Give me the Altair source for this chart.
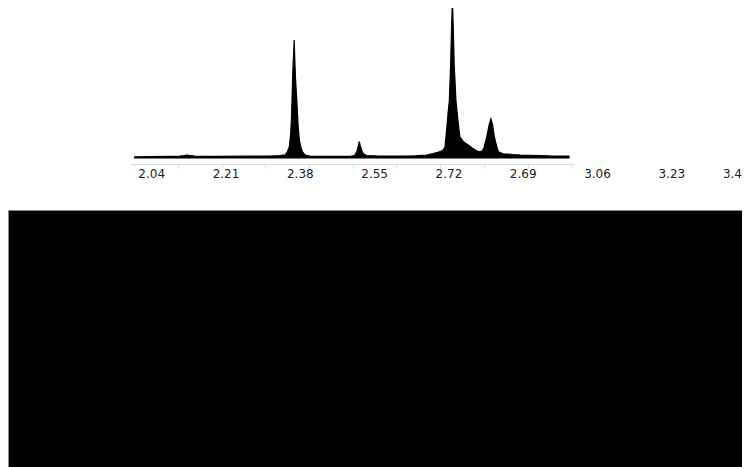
import altair as alt
import pandas as pd

# chromatogram profile (retention value, intensity)
rt = [2.000, 2.036, 2.082, 2.105, 2.114, 2.121, 2.128, 2.139, 2.196, 2.265,
      2.311, 2.334, 2.340, 2.345, 2.350, 2.355, 2.358, 2.360, 2.361, 2.363,
      2.365, 2.366, 2.367, 2.369, 2.372, 2.375, 2.378, 2.381, 2.385, 2.391,
      2.402, 2.448, 2.494, 2.503, 2.505, 2.510, 2.513, 2.515, 2.517, 2.521,
      2.525, 2.532, 2.561, 2.608, 2.642, 2.669, 2.684, 2.700, 2.707, 2.711,
      2.714, 2.718, 2.721, 2.724, 2.726, 2.728, 2.730, 2.732, 2.736, 2.741,
      2.745, 2.753, 2.764, 2.775, 2.787, 2.795, 2.800, 2.806, 2.812, 2.816,
      2.820, 2.824, 2.829, 2.833, 2.844, 2.855, 2.867, 2.883, 2.906, 2.952,
      2.996]
intensity = [1.7, 1.8, 2.2, 2.5, 3.0, 3.5, 3.0, 2.3, 2.2, 2.3,
             2.5, 3.0, 3.3, 3.5, 6.5, 11.8, 25, 42, 58.5, 88,
             108, 118.5, 105, 80, 58.5, 33, 18, 11.8, 6.5, 3.5,
             2.5, 2.2, 2.2, 3.0, 3.5, 7.5, 13, 16.8, 13, 7.5,
             4.5, 3.0, 2.4, 2.5, 2.7, 3.5, 5.0, 6.8, 8.5, 11.8,
             25, 45, 58.5, 95, 130, 158.5, 130, 95, 58.5, 36.5,
             21.8, 16.8, 13.5, 10, 6.8, 7.0, 10.5, 20.5, 33.5, 39.5,
             33.5, 21.5, 12.5, 6.8, 4.7, 4.5, 4.0, 3.5, 3.2, 2.6,
             2.5]

# tick labels as printed (positions and texts); the last one sits flush at the edge
label_pos = [2.04, 2.21, 2.38, 2.55, 2.72, 2.89, 3.06, 3.23]
label_text = ["2.04", "2.21", "2.38", "2.55", "2.72", "2.69", "3.06", "3.23"]
edge_label = ["3.4"]

minor_ticks = [round(2.0 + 0.025 * i, 3) for i in range(41)]

W, H = 734, 459
xscale = alt.Scale(domain=[1.7113, 3.3905], nice=False, zero=False)
yscale = alt.Scale(domain=[-308.5, 150.5], nice=False, zero=False)

df = pd.DataFrame({"rt": rt, "intensity": intensity})
labels = pd.DataFrame({"pos": label_pos, "label": label_text})
edge = pd.DataFrame({"label": edge_label})
one = pd.DataFrame({"a": [0]})

black = alt.Chart(one).mark_rect(fill="#000000", stroke="#8a8a8a", strokeWidth=1).encode(
    x=alt.value(0.5), x2=alt.value(W + 2), y=alt.value(202.5), y2=alt.value(H + 2)
)

area = alt.Chart(df).mark_area(color="#000000", opacity=1, fillOpacity=1, clip=True,
                               interpolate="linear",
                               line={"color": "#000000", "strokeWidth": 1.2}).encode(
    x=alt.X("rt:Q", scale=xscale,
            axis=alt.Axis(values=minor_ticks, labels=False, domain=False, grid=False,
                          ticks=True, tickColor="#dddddd", tickSize=4, tickWidth=1,
                          offset=156 - H, title=None)),
    y=alt.Y("intensity:Q", scale=yscale, axis=None),
)

domain_line = alt.Chart(one).mark_rule(color="#dddddd", strokeWidth=1).encode(
    x=alt.datum(1.991, scale=xscale), x2=alt.datum(3.007), y=alt.value(156.5)
)

text = alt.Chart(labels).mark_text(font="DejaVu Sans", fontSize=12, color="#222222",
                                   baseline="middle", align="center").encode(
    x=alt.X("pos:Q", scale=xscale),
    y=alt.value(166),
    text="label:N",
)

edge_text = alt.Chart(edge).mark_text(font="DejaVu Sans", fontSize=12, color="#222222",
                                      baseline="middle", align="right").encode(
    x=alt.value(W),
    y=alt.value(166),
    text="label:N",
)

chart = alt.layer(black, domain_line, area, text, edge_text).properties(
    width=W, height=H,
    autosize=alt.AutoSizeParams(type="none"),
    padding=0,
    background="white",
).configure_view(stroke=None)

chart.save("out.html", embed_options={"renderer": "svg", "actions": False})
